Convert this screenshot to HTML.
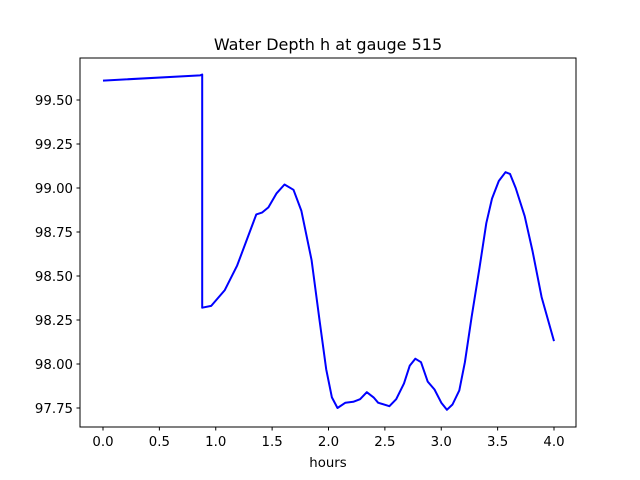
<!DOCTYPE html>
<html><head><meta charset="utf-8"><style>
body{margin:0;background:#fff;}
svg{display:block;font-family:"DejaVu Sans","Liberation Sans",sans-serif;}
</style></head><body>
<svg id="chart" width="640" height="480" viewBox="0 0 640 480">
<rect width="640" height="480" fill="#fff"/>
<text x="328" y="50" font-size="16" text-anchor="middle">Water Depth h at gauge 515</text>
<g id="xt"></g><g id="yt"></g>
<polyline id="line" fill="none" stroke="#0000ff" stroke-width="2" stroke-linejoin="round"/>
<rect x="80" y="58" width="496" height="369" fill="none" stroke="#000" stroke-width="1"/>
<text x="328" y="467" font-size="13.3" text-anchor="middle">hours</text>
</svg>
<script>
const hours=[0,0.86,0.88,0.88,0.96,1.08,1.19,1.29,1.36,1.41,1.467,1.54,1.61,1.69,1.76,1.85,1.92,1.98,2.03,2.08,2.15,2.22,2.28,2.34,2.40,2.44,2.54,2.60,2.67,2.72,2.77,2.82,2.88,2.94,3.00,3.05,3.10,3.16,3.21,3.27,3.34,3.40,3.45,3.51,3.57,3.61,3.66,3.74,3.81,3.89,4.0];
const depth=[99.61,99.64,99.645,98.32,98.33,98.42,98.56,98.73,98.85,98.86,98.89,98.97,99.02,98.99,98.87,98.59,98.25,97.97,97.81,97.75,97.78,97.785,97.80,97.84,97.81,97.78,97.76,97.80,97.89,97.99,98.03,98.01,97.90,97.855,97.78,97.74,97.77,97.85,98.01,98.27,98.55,98.80,98.94,99.04,99.09,99.08,99.00,98.84,98.64,98.38,98.13];
const xTicks=["0.0","0.5","1.0","1.5","2.0","2.5","3.0","3.5","4.0"];
const yTicks=["97.75","98.00","98.25","98.50","98.75","99.00","99.25","99.50"];
const NS="http://www.w3.org/2000/svg";
const X=v=>103+(v-0)*112.75;
const Y=v=>408-(v-97.75)*176;
const xt=document.getElementById('xt'),yt=document.getElementById('yt');
xTicks.forEach(t=>{const x=X(parseFloat(t));
 const l=document.createElementNS(NS,'line');l.setAttribute('x1',x);l.setAttribute('x2',x);l.setAttribute('y1',427);l.setAttribute('y2',430.5);l.setAttribute('stroke','#000');
 
 
 xt.appendChild(l);
 const s=document.createElementNS(NS,'text');s.setAttribute('x',x);s.setAttribute('y',446);s.setAttribute('font-size','13.3');s.setAttribute('text-anchor','middle');s.textContent=t;
 
 
 xt.appendChild(s);});
yTicks.forEach(t=>{const y=Y(parseFloat(t));
 const l=document.createElementNS(NS,'line');l.setAttribute('x1',76.5);l.setAttribute('x2',80);l.setAttribute('y1',y);l.setAttribute('y2',y);l.setAttribute('stroke','#000');
 
 
 yt.appendChild(l);
 const s=document.createElementNS(NS,'text');s.setAttribute('x',73);s.setAttribute('y',y+5);s.setAttribute('font-size','13.3');s.setAttribute('text-anchor','end');s.textContent=t;
 
 
 yt.appendChild(s);});
document.getElementById('line').setAttribute('points',hours.map((h,i)=>X(h).toFixed(1)+','+Y(depth[i]).toFixed(1)).join(' '));
</script>
</body></html>
